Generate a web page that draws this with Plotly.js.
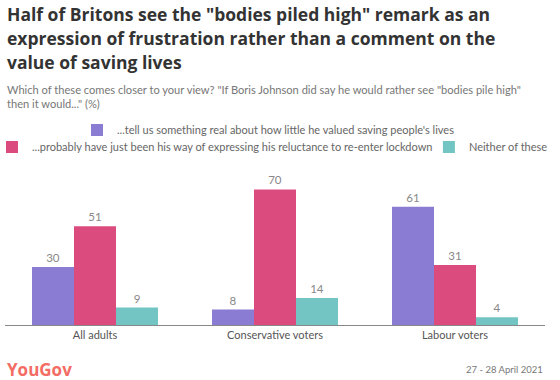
<!DOCTYPE html>
<html><head><meta charset="utf-8">
<script src="https://cdn.plot.ly/plotly-3.0.1.min.js"></script>
<style>html,body{margin:0;padding:0;background:#fff}#chart{width:560px;height:380px}</style>
</head><body><div id="chart"></div>
<script>
const categories = ["All adults", "Conservative voters", "Labour voters"];
const seriesNames = [
  "...tell us something real about how little he valued saving people's lives",
  "...probably have just been his way of expressing his reluctance to re-enter lockdown",
  "Neither of these"
];
const realValues = [30, 8, 61];
const lockdownValues = [51, 70, 31];
const neitherValues = [9, 14, 4];
const colors = ["#8a7bd3", "#dc4b7e", "#72c5c2"];
const legendIds = ["legend", "legend2", "legend3"];
const titleLines = [
  "Half of Britons see the \"bodies piled high\" remark as an",
  "expression of frustration rather than a comment on the",
  "value of saving lives"
];

const F = "Lato, 'Open Sans', sans-serif";
const allValues = [realValues, lockdownValues, neitherValues];
const data = allValues.map((v, i) => ({
  type: "bar", x: categories, y: v, name: seriesNames[i],
  legend: legendIds[i],
  marker: {color: colors[i]},
  text: v.map(String), textposition: "outside", cliponaxis: false,
  textfont: {family: F, size: 11.5, color: "#888"},
  hoverinfo: "none"
}));

const legFont = {family: F, size: 11, color: "#666"};
const legBase = {orientation: "h", yanchor: "middle", xanchor: "left", font: legFont, itemwidth: 30,
                 bgcolor: "rgba(0,0,0,0)", borderwidth: 0};
const titleY = [2.034, 1.876, 1.719];
const titleAnns = titleLines.map((t, i) => ({
  text: "<b>" + t + "</b>", xref: "paper", yref: "paper", x: 0, xanchor: "left",
  y: titleY[i], yanchor: "middle", align: "left", showarrow: false,
  font: {family: "'Open Sans', sans-serif", size: 17.5, color: "#333"}
}));
const layout = {
  width: 560, height: 380,
  margin: {l: 5, r: 15, t: 172, b: 55, autoexpand: false},
  paper_bgcolor: "#fff", plot_bgcolor: "#fff",
  font: {family: F, color: "#555"},
  barmode: "group", bargap: 0.3, bargroupgap: 0,
  showlegend: true,
  legend: Object.assign({}, legBase, {x: 0.1333, y: 1.2745}),
  legend2: Object.assign({}, legBase, {x: -0.0241, y: 1.163}),
  legend3: Object.assign({}, legBase, {x: 0.785, y: 1.163}),
  xaxis: {
    showgrid: false, showline: true, linecolor: "#888", linewidth: 1,
    ticks: "", tickfont: {family: F, size: 11, color: "#555"}, fixedrange: true
  },
  yaxis: {
    range: [0, 79], showgrid: false, zeroline: false, showticklabels: false,
    showline: false, ticks: "", fixedrange: true
  },
  annotations: titleAnns.concat([
    {text: "Which of these comes closer to your view? \"If Boris Johnson did say he would rather see \"bodies pile high\"<br>then it would...\" (%)",
     xref: "paper", yref: "paper", x: 0, xanchor: "left", y: 1.598, yanchor: "top",
     align: "left", showarrow: false, font: {family: F, size: 11.1, color: "#777"}},
    {text: "<b>YouGov</b>", xref: "paper", yref: "paper", x: 0, xanchor: "left",
     y: -0.294, yanchor: "middle", showarrow: false,
     font: {family: "'Open Sans', sans-serif", size: 17, color: "#f36d65"}},
    {text: "27 - 28 April 2021", xref: "paper", yref: "paper", x: 1, xanchor: "right",
     y: -0.294, yanchor: "middle", showarrow: false,
     font: {family: F, size: 9.5, color: "#777"}}
  ])
};
Plotly.newPlot("chart", data, layout, {displayModeBar: false, staticPlot: true});
</script></body></html>
